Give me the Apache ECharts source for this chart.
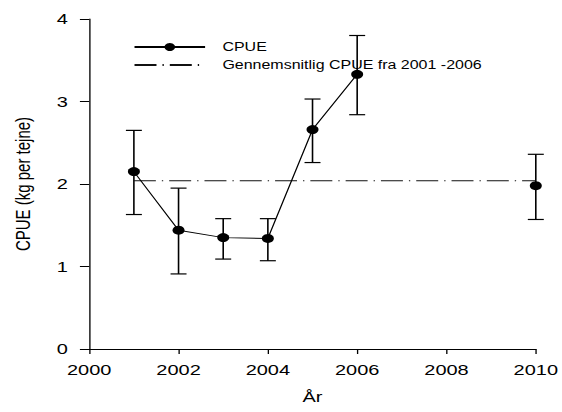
<!DOCTYPE html>
<html lang="da">
<head>
    <meta charset="UTF-8">
    <title>CPUE</title>
    <script src="https://cdn.jsdelivr.net/npm/echarts@6/dist/echarts.min.js"></script>
    <style>
        body { margin: 0; overflow: hidden; background: #fff; }
        /* the source picture is stretched sideways, so the chart is too */
        #main { width: 422px; height: 412px; transform: scaleX(1.3318); transform-origin: 0 0; }
    </style>
</head>
<body>
<div id="main"></div>
<script>
    var years = [2001, 2002, 2003, 2004, 2005, 2006, 2010];
    var cpue = [2.15, 1.44, 1.35, 1.34, 2.66, 3.33, 1.98];
    var lower = [1.63, 0.91, 1.09, 1.07, 2.26, 2.84, 1.57];
    var upper = [2.65, 1.95, 1.58, 1.58, 3.03, 3.80, 2.36];
    var avgYears = [2001, 2010];
    var avgValue = 2.04;

    var font = "'Liberation Sans', Arial, sans-serif";

    // break the line where years are missing (2006 -> 2010)
    var lineData = [];
    for (var i = 0; i < years.length; i++) {
        if (i > 0 && years[i] - years[i - 1] > 1) {
            lineData.push([years[i], null]);
        }
        lineData.push([years[i], cpue[i]]);
    }
    var barData = [];
    for (var i = 0; i < years.length; i++) {
        barData.push([years[i], lower[i], upper[i]]);
    }
    var avgData = [];
    for (var i = 0; i < avgYears.length; i++) {
        avgData.push([avgYears[i], avgValue]);
    }

    var myChart = echarts.init(document.getElementById('main'), null, {renderer: 'svg'});
    var option = {
        animation: false,
        grid: { left: 67, right: 18, top: 19, bottom: 63 },
        legend: {
            orient: 'vertical',
            left: 95,
            top: 36,
            itemWidth: 53,
            itemHeight: 10,
            itemGap: 6,
            textStyle: { fontFamily: font, fontSize: 12, color: '#000', padding: [0, 0, 0, 8] },
            data: [
                'CPUE',
                { name: 'Gennemsnitlig CPUE fra 2001 -2006', itemStyle: { opacity: 0 } }
            ]
        },
        xAxis: {
            type: 'value',
            min: 2000,
            max: 2010,
            interval: 2,
            name: 'År',
            nameLocation: 'middle',
            nameGap: 40,
            nameTextStyle: { fontFamily: font, fontSize: 15, color: '#000' },
            axisLine: { lineStyle: { color: '#000', width: 1 } },
            axisTick: { length: 5, lineStyle: { color: '#000' } },
            axisLabel: {
                margin: 13, fontFamily: font, fontSize: 15, color: '#000',
                formatter: function (v) { return String(v); }
            },
            splitLine: { show: false }
        },
        yAxis: {
            type: 'value',
            min: 0,
            max: 4,
            interval: 1,
            name: 'CPUE (kg per tejne)',
            nameLocation: 'middle',
            nameGap: 42,
            nameTextStyle: { fontFamily: font, fontSize: 15, color: '#000' },
            axisLine: { show: true, lineStyle: { color: '#000', width: 1 } },
            axisTick: { show: true, length: 7, lineStyle: { color: '#000' } },
            axisLabel: { margin: 16, fontFamily: font, fontSize: 15, color: '#000' },
            splitLine: { show: false }
        },
        series: [
            {
                name: 'Gennemsnitlig CPUE fra 2001 -2006',
                type: 'line',
                data: avgData,
                symbol: 'none',
                lineStyle: { color: '#111', width: 1, type: [16.5, 4.5, 1, 4.5] },
                itemStyle: { color: '#111' }
            },
            {
                name: 'errorbars',
                type: 'custom',
                data: barData,
                renderItem: function (params, api) {
                    var x = api.value(0);
                    var lo = api.coord([x, api.value(1)]);
                    var hi = api.coord([x, api.value(2)]);
                    var w = 6;
                    var st = { stroke: '#000', lineWidth: 1.2 };
                    return {
                        type: 'group',
                        children: [
                            { type: 'line', shape: { x1: lo[0], y1: lo[1], x2: hi[0], y2: hi[1] }, style: st },
                            { type: 'line', shape: { x1: hi[0] - w, y1: hi[1], x2: hi[0] + w, y2: hi[1] }, style: st },
                            { type: 'line', shape: { x1: lo[0] - w, y1: lo[1], x2: lo[0] + w, y2: lo[1] }, style: st }
                        ]
                    };
                },
                z: 2
            },
            {
                name: 'CPUE',
                type: 'line',
                data: lineData,
                connectNulls: false,
                symbol: 'circle',
                symbolSize: 9,
                lineStyle: { color: '#000', width: 1 },
                itemStyle: { color: '#000' },
                z: 3
            }
        ]
    };
    myChart.setOption(option);
</script>
</body>
</html>
